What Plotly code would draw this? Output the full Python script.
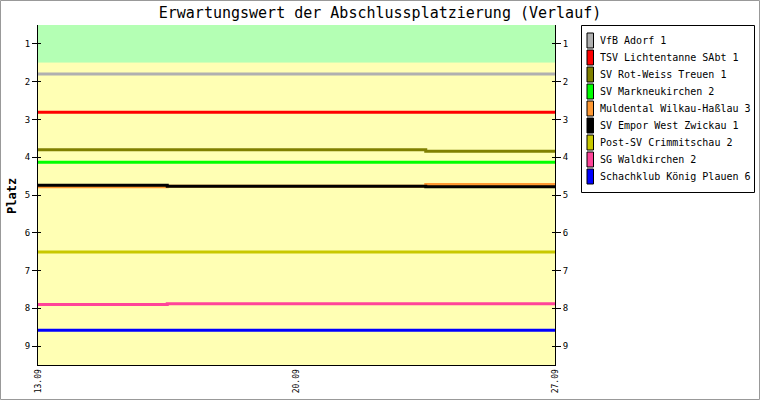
import plotly.graph_objects as go

# ---- data ----
dates = ["13.09", "20.09", "27.09"]
teams = [
    "VfB Adorf 1",
    "TSV Lichtentanne SAbt 1",
    "SV Rot-Weiss Treuen 1",
    "SV Markneukirchen 2",
    "Muldental Wilkau-Haßlau 3",
    "SV Empor West Zwickau 1",
    "Post-SV Crimmitschau 2",
    "SG Waldkirchen 2",
    "Schachklub König Plauen 6",
]
vfb_adorf = [1.80, 1.80, 1.80]
tsv_lichtentanne = [2.81, 2.81, 2.81]
sv_rot_weiss_treuen = [3.80, 3.80, 3.84]
sv_markneukirchen = [4.13, 4.13, 4.13]
muldental_wilkau = [4.78, 4.77, 4.72]
sv_empor_west = [4.74, 4.77, 4.78]
post_sv_crimmitschau = [6.51, 6.51, 6.51]
sg_waldkirchen = [7.90, 7.88, 7.88]
schachklub_plauen = [8.58, 8.58, 8.58]
series = [vfb_adorf, tsv_lichtentanne, sv_rot_weiss_treuen, sv_markneukirchen,
          muldental_wilkau, sv_empor_west, post_sv_crimmitschau, sg_waldkirchen,
          schachklub_plauen]
y_ticks = [1, 2, 3, 4, 5, 6, 7, 8, 9]
green_zone = [0.5, 1.5]
yellow_zone = [1.5, 9.5]

# ---- styles ----
colors = ["#b0b0b0", "#ff0000", "#808000", "#00ff00", "#ff9933",
          "#000000", "#c8c800", "#ff4499", "#0000ff"]
W, H = 760, 400
L, R, T, B = 38, 555, 25, 365
PW, PH = R - L, B - T
FONT = "DejaVu Sans Mono"

def px(x):
    return (x - L) / PW

def py(y):
    return (B - y) / PH

fig = go.Figure()
for name, vals, col in zip(teams, series, colors):
    fig.add_trace(go.Scatter(x=dates, y=vals, name=name, mode="lines",
                             line=dict(color=col, width=3, shape="hvh"),
                             showlegend=False, hoverinfo="skip"))
# helper traces for extra axes
for ax in ["y2", "y3", "y4"]:
    fig.add_trace(go.Scatter(x=dates, y=vfb_adorf, yaxis=ax, mode="lines",
                             line=dict(width=0), showlegend=False, hoverinfo="skip"))

shapes = [
    dict(type="rect", xref="paper", yref="y", x0=0, x1=1, y0=green_zone[0], y1=green_zone[1],
         fillcolor="#b4ffb4", line=dict(width=0), layer="below"),
    dict(type="rect", xref="paper", yref="y", x0=0, x1=1, y0=yellow_zone[0], y1=yellow_zone[1],
         fillcolor="#ffffb4", line=dict(width=0), layer="below"),
    # outer figure border
    dict(type="rect", xref="paper", yref="paper", x0=px(0.5), x1=px(759.5), y0=py(399.5), y1=py(0.5),
         line=dict(color="#999999", width=1), fillcolor="rgba(0,0,0,0)"),
    # legend box
    dict(type="rect", xref="paper", yref="paper", x0=px(581.5), x1=px(754.5), y0=py(192.5), y1=py(25.5),
         line=dict(color="#000000", width=1), fillcolor="#ffffff"),
]
annotations = [
    dict(text="<b>Platz</b>", xref="paper", yref="paper", x=px(12), y=py(196), textangle=-90,
         showarrow=False, font=dict(family=FONT, size=12, color="#000"), xanchor="center", yanchor="middle"),
]
y0 = 40.5
step = 17.0
for i, (name, col) in enumerate(zip(teams, colors)):
    cy = y0 + i * step
    shapes.append(dict(type="rect", xref="paper", yref="paper",
                       x0=px(587), x1=px(593.5), y0=py(cy + 7.5), y1=py(cy - 7.5),
                       fillcolor=col, line=dict(color="#000000", width=1)))
    annotations.append(dict(text=name, xref="paper", yref="paper", x=px(598), y=py(cy),
                            xanchor="left", yanchor="middle", showarrow=False,
                            font=dict(family=FONT, size=10, color="#000")))

yax_common = dict(range=[9.5, 0.5], tickvals=y_ticks, showgrid=False, zeroline=False,
                  automargin=False, tickfont=dict(family=FONT, size=9, color="#000"))
fig.update_layout(
    width=W, height=H,
    margin=dict(l=L, r=W - R, t=T, b=H - B, pad=0, autoexpand=False),
    paper_bgcolor="#ffffff", plot_bgcolor="#ffffb4",
    title=dict(text="Erwartungswert der Abschlussplatzierung (Verlauf)", x=0.5, xanchor="center",
               y=1 - 13 / H, yanchor="middle", font=dict(family=FONT, size=15, color="#000")),
    xaxis=dict(type="category", range=[0, 2], showgrid=False, zeroline=False, automargin=False,
               showline=True, linecolor="#000", linewidth=1, ticks="", tickangle=-90,
               tickfont=dict(family=FONT, size=8, color="#000")),
    yaxis=dict(**yax_common, showline=True, linecolor="#000", linewidth=1, side="left",
               ticks="outside", ticklen=5, tickcolor="#000"),
    yaxis2=dict(**yax_common, overlaying="y", side="right", showline=True, linecolor="#000",
                linewidth=1, ticks="outside", ticklen=5, tickcolor="#000"),
    yaxis3=dict(range=[9.5, 0.5], tickvals=y_ticks, overlaying="y", side="left", showgrid=False,
                automargin=False, zeroline=False, showticklabels=False, ticks="inside", ticklen=3,
                tickcolor="#000"),
    yaxis4=dict(range=[9.5, 0.5], tickvals=y_ticks, overlaying="y", side="right", showgrid=False,
                automargin=False, zeroline=False, showticklabels=False, ticks="inside", ticklen=3,
                tickcolor="#000"),
    shapes=shapes, annotations=annotations, showlegend=False,
)
fig.write_html("out.html", config={"displayModeBar": False},
               post_script="document.body.style.margin='0';document.body.style.padding='0';")
